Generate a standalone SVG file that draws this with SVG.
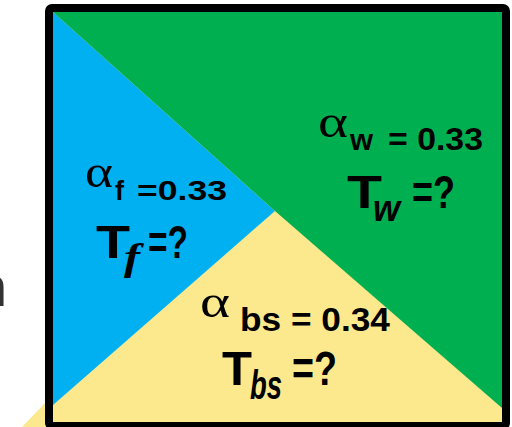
<svg xmlns="http://www.w3.org/2000/svg" width="512" height="427" viewBox="0 0 512 427">
<style>
.a{font-family:"Liberation Serif",serif;font-size:46px;fill:#000}
.b{font-family:"Liberation Sans",Arial,sans-serif;font-weight:bold;fill:#000}
.i{font-family:"Liberation Sans",Arial,sans-serif;font-weight:bold;font-style:italic;fill:#000}
.s{font-family:"Liberation Serif",serif;font-weight:bold;font-style:italic;fill:#000}
</style>
<rect width="512" height="427" fill="#fff"/>
<text x="-24" y="306" font-family="Liberation Sans, sans-serif" font-size="56" fill="#333">n</text>
<polygon points="22,427 45,403 45,427" fill="#FCE98D"/>
<g id="yellow">
<rect x="53" y="12" width="449" height="414" fill="#FCE98D"/>
</g>
<g id="blue">
<polygon points="53,12 275,211 53,405" fill="#00B0F0"/>
</g>
<g id="green">
<polygon points="53,12 502,12 502,408 275,211" fill="#00B050"/>
</g>
<rect x="49" y="8" width="457" height="418" rx="3" fill="none" stroke="#000" stroke-width="8"/>
<g id="label-f">
<text class="a" x="85" y="187" textLength="28" lengthAdjust="spacingAndGlyphs">α</text>
<text class="b" x="115" y="200" font-size="27">f</text>
<text class="b" x="137" y="200" font-size="27" textLength="90" lengthAdjust="spacingAndGlyphs">=0.33</text>
<text class="b" x="96" y="258" font-size="46" textLength="34" lengthAdjust="spacingAndGlyphs">T</text>
<text class="s" x="124" y="270" font-size="38" textLength="16" lengthAdjust="spacingAndGlyphs">f</text>
<text class="b" x="148" y="258" font-size="46" textLength="40" lengthAdjust="spacingAndGlyphs">=?</text>
</g>
<g id="label-w">
<text class="a" x="318" y="137" textLength="30" lengthAdjust="spacingAndGlyphs">α</text>
<text class="b" x="350" y="150" font-size="29" textLength="23" lengthAdjust="spacingAndGlyphs">w</text>
<text class="b" x="388" y="150" font-size="31" textLength="95" lengthAdjust="spacingAndGlyphs">= 0.33</text>
<text class="b" x="347" y="208" font-size="46" textLength="35" lengthAdjust="spacingAndGlyphs">T</text>
<text class="i" x="373" y="221" font-size="36" textLength="27" lengthAdjust="spacingAndGlyphs">w</text>
<text class="b" x="412" y="208" font-size="46" textLength="43" lengthAdjust="spacingAndGlyphs">=?</text>
</g>
<g id="label-bs">
<text class="a" x="200" y="317" textLength="30" lengthAdjust="spacingAndGlyphs">α</text>
<text class="b" x="240" y="331" font-size="33" textLength="150" lengthAdjust="spacingAndGlyphs">bs = 0.34</text>
<text class="b" x="222" y="385" font-size="48" textLength="30" lengthAdjust="spacingAndGlyphs">T</text>
<text class="i" x="250" y="399" font-size="40" textLength="32" lengthAdjust="spacingAndGlyphs">bs</text>
<text class="b" x="292" y="385" font-size="48" textLength="45" lengthAdjust="spacingAndGlyphs">=?</text>
</g>
</svg>
